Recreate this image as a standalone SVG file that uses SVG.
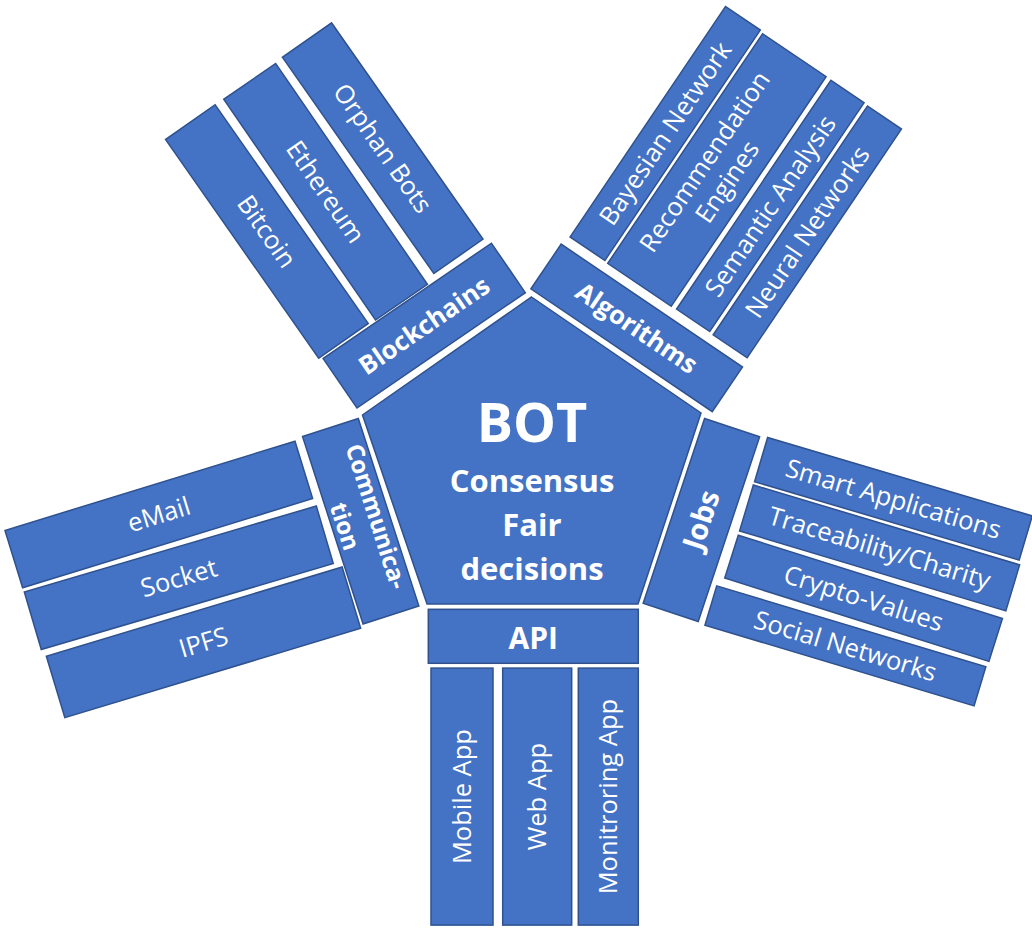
<svg xmlns="http://www.w3.org/2000/svg" width="1032" height="933" viewBox="0 0 1032 933">
<style>
.box{fill:#4472C4;stroke:#2F528F;stroke-width:1.5}
.t{font-family:"Open Sans","Liberation Sans",sans-serif;fill:#ffffff;text-anchor:middle;font-size:25.5px}
.b{font-weight:bold}
</style>
<rect width="1032" height="933" fill="#ffffff"/>

<g id="bot">
<polygon class="box" points="531.5,297 701,413 638,604 427,604 362.5,415"/>
<text class="t b" x="532" y="442" style="font-size:54px">BOT</text>
<text class="t b" x="532" y="492" style="font-size:31px">Consensus</text>
<text class="t b" x="532" y="536" style="font-size:31px">Fair</text>
<text class="t b" x="532" y="580" style="font-size:31px">decisions</text>
</g>

<!-- API arm -->
<g id="api">
<rect class="box" x="428.3" y="609.3" width="210" height="54"/>
<text class="t b" x="533.3" y="649" style="font-size:30px">API</text>
</g>
<g id="mobile-app" transform="translate(462,796.6) rotate(-90)">
<rect class="box" x="-128.5" y="-31" width="257" height="62"/>
<text class="t" y="9">Mobile App</text>
</g>
<g id="web-app" transform="translate(537.2,796.6) rotate(-90)">
<rect class="box" x="-128.5" y="-34.5" width="257" height="69"/>
<text class="t" y="9">Web App</text>
</g>
<g id="monitoring-app" transform="translate(608.3,796.6) rotate(-90)">
<rect class="box" x="-128.5" y="-30" width="257" height="60"/>
<text class="t" y="9">Monitroring App</text>
</g>

<!-- Blockchains arm -->
<g id="blockchains" transform="translate(424.2,325.6) rotate(-34.4)">
<rect class="box" x="-102" y="-30" width="204" height="60"/>
<text class="t b" y="9">Blockchains</text>
</g>
<g id="bitcoin" transform="translate(266.9,231.5) rotate(55)">
<rect class="box" x="-133.5" y="-30.25" width="267" height="60.5"/>
<text class="t" y="9">Bitcoin</text>
</g>
<g id="ethereum" transform="translate(325.6,191.8) rotate(55.5)">
<rect class="box" x="-134" y="-31.5" width="268" height="63"/>
<text class="t" y="9">Ethereum</text>
</g>
<g id="orphan-bots" transform="translate(382.7,148.2) rotate(55)">
<rect class="box" x="-132" y="-30" width="264" height="60"/>
<text class="t" y="9">Orphan Bots</text>
</g>

<!-- Algorithms arm -->
<g id="algorithms" transform="translate(636.7,327.9) rotate(34.1)">
<rect class="box" x="-109.5" y="-27" width="219" height="54"/>
<text class="t b" y="9">Algorithms</text>
</g>
<g id="bayesian-network" transform="translate(665.2,133.5) rotate(-56)">
<rect class="box" x="-139" y="-21" width="278" height="42"/>
<text class="t" y="9">Bayesian Network</text>
</g>
<g id="recommendation-engines" transform="translate(716.9,170) rotate(-56)">
<rect class="box" x="-138.5" y="-38.3" width="277" height="76.6"/>
<text class="t" y="-6"><tspan x="0">Recommendation</tspan><tspan x="-4" dy="30">Engines</tspan></text>
</g>
<g id="semantic-analysis" transform="translate(770.3,205.9) rotate(-56)">
<rect class="box" x="-138" y="-20" width="276" height="40"/>
<text class="t" y="9">Semantic Analysis</text>
</g>
<g id="neural-networks" transform="translate(807.3,231.9) rotate(-56)">
<rect class="box" x="-138" y="-20.5" width="276" height="41"/>
<text class="t" y="9">Neural Networks</text>
</g>

<!-- Jobs arm -->
<g id="jobs" transform="translate(701.4,520) rotate(-71.6)">
<rect class="box" x="-97.3" y="-29" width="194.6" height="58"/>
<text class="t b" y="10" style="font-size:29px">Jobs</text>
</g>
<g id="smart-applications" transform="translate(893.4,498.8) rotate(16.5)">
<rect class="box" x="-138" y="-23" width="276" height="46"/>
<text class="t" y="9">Smart Applications</text>
</g>
<g id="traceability-charity" transform="translate(879.6,547.9) rotate(16.7)">
<rect class="box" x="-139" y="-24" width="278" height="48"/>
<text class="t" y="9">Traceability/Charity</text>
</g>
<g id="crypto-values" transform="translate(863.6,598.3) rotate(17.5)">
<rect class="box" x="-138.5" y="-22.5" width="277" height="45"/>
<text class="t" y="9">Crypto-Values</text>
</g>
<g id="social-networks" transform="translate(845.4,645.9) rotate(16.7)">
<rect class="box" x="-140.5" y="-20.5" width="281" height="41"/>
<text class="t" y="9">Social Networks</text>
</g>

<!-- Communication arm -->
<g id="communication" transform="translate(360.7,521.3) rotate(72.1)">
<rect class="box" x="-98.5" y="-29.3" width="197" height="58.6"/>
<text class="t b" y="-8" style="font-size:24px"><tspan x="0">Communica-</tspan><tspan x="0" dy="33">tion</tspan></text>
</g>
<g id="email" transform="translate(158.8,514.5) rotate(-17.1)">
<rect class="box" x="-151.7" y="-30" width="303.4" height="60"/>
<text class="t" y="9">eMail</text>
</g>
<g id="socket" transform="translate(178.8,577.8) rotate(-16.4)">
<rect class="box" x="-152.2" y="-30" width="304.4" height="60"/>
<text class="t" y="9">Socket</text>
</g>
<g id="ipfs" transform="translate(203.5,642.3) rotate(-16.8)">
<rect class="box" x="-154.5" y="-32" width="309" height="64"/>
<text class="t" y="9">IPFS</text>
</g>
</svg>
